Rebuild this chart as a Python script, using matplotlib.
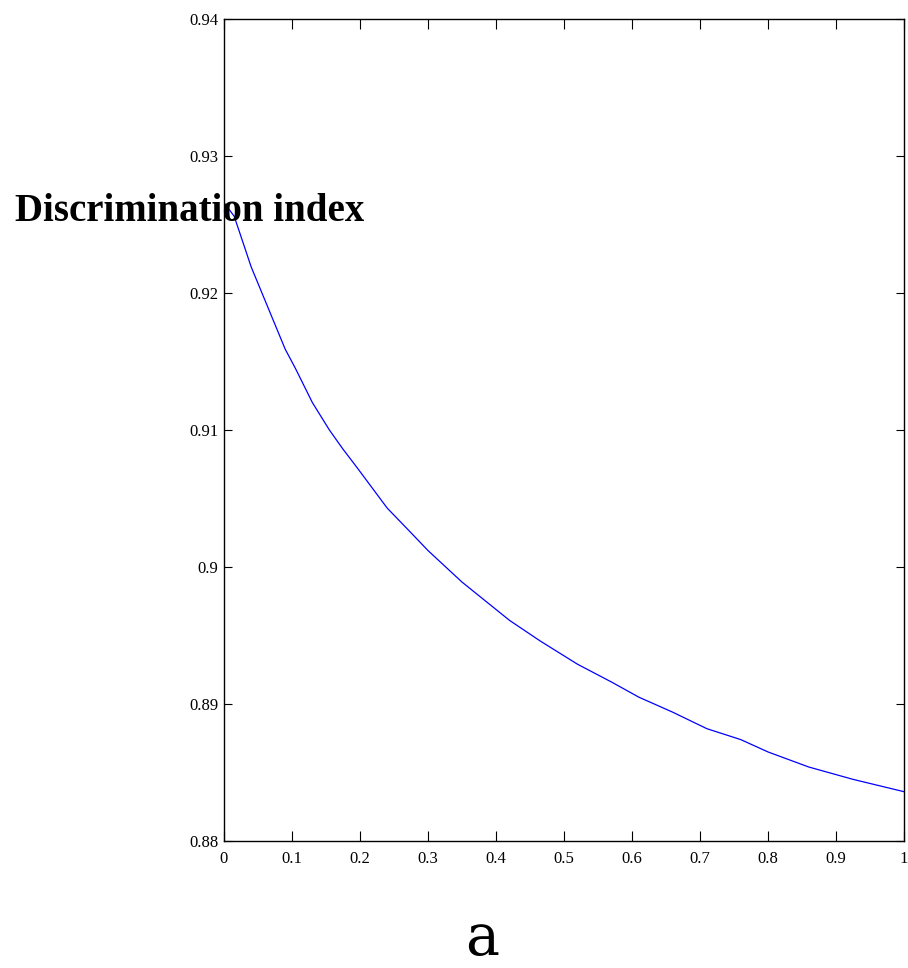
import matplotlib
matplotlib.use("Agg")
import matplotlib.pyplot as plt

x_vals = [0.0, 0.015, 0.04, 0.075, 0.09, 0.105, 0.13, 0.155, 0.175, 0.195,
          0.24, 0.275, 0.3, 0.35, 0.42, 0.465, 0.52, 0.57, 0.61, 0.66,
          0.71, 0.76, 0.8, 0.86, 0.925, 1.0]
y_vals = [0.9266, 0.9256, 0.9219, 0.9177, 0.9159, 0.9145, 0.9120, 0.9100,
          0.9086, 0.9073, 0.9043, 0.9025, 0.9012, 0.8989, 0.8961, 0.8946,
          0.8929, 0.8916, 0.8905, 0.8894, 0.8882, 0.8874, 0.8865, 0.8854,
          0.8845, 0.8836]

x_ticks = [0, 0.1, 0.2, 0.3, 0.4, 0.5, 0.6, 0.7, 0.8, 0.9, 1]
x_tick_labels = ["0", "0.1", "0.2", "0.3", "0.4", "0.5", "0.6", "0.7", "0.8", "0.9", "1"]
y_ticks = [0.88, 0.89, 0.90, 0.91, 0.92, 0.93, 0.94]
y_tick_labels = ["0.88", "0.89", "0.9", "0.91", "0.92", "0.93", "0.94"]

plt.rcParams['font.family'] = ['Liberation Serif', 'DejaVu Serif']

W, H = 908, 968
fig = plt.figure(figsize=(W / 100, H / 100), dpi=100)
ax = fig.add_axes([224 / W, 1 - 841 / H, (904 - 224) / W, (841 - 19) / H])

ax.plot(x_vals, y_vals, color=(0, 0, 1), linewidth=0.9)
ax.set_xlim(0, 1)
ax.set_ylim(0.88, 0.94)
ax.set_xticks(x_ticks)
ax.set_xticklabels(x_tick_labels)
ax.set_yticks(y_ticks)
ax.set_yticklabels(y_tick_labels)
ax.tick_params(axis='both', direction='in', top=True, right=True,
               labelsize=12, width=0.8, color='black')
ax.tick_params(axis='y', length=5.5, pad=4)
ax.tick_params(axis='x', length=7, pad=7)
for s in ax.spines.values():
    s.set_linewidth(1.0)
    s.set_color('black')

fig.text(15 / W, 1 - 221 / H, "Discrimination index", fontsize=28,
         fontweight='bold', ha='left', va='baseline')
fig.text(482 / W, 0.5 / H, "a", fontsize=41, ha='center', va='bottom',
         family='DejaVu Serif')

fig.savefig("out.png", dpi=100)
